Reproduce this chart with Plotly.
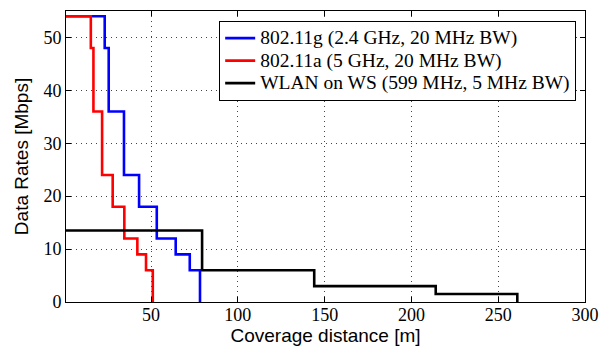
import plotly.graph_objects as go

# Data rates (Mbps) and the coverage distance (m) at which each rate ends
g_rates = [54, 48, 36, 24, 18, 12, 9, 6]
g_dist = [23.3, 25.6, 34.4, 43.1, 53.3, 64.2, 72.3, 78.2]

a_rates = [54, 48, 36, 24, 18, 12, 9, 6]
a_dist = [15.3, 16.8, 21.8, 27.9, 34.6, 42.1, 47.1, 51.0]

ws_rates = [13.5, 6, 3, 1.5]
ws_dist = [79.4, 144.0, 214.0, 261.0]

x_start = 1
series_names = ["802.11g (2.4 GHz, 20 MHz BW)",
                "802.11a (5 GHz, 20 MHz BW)",
                "WLAN on WS (599 MHz, 5 MHz BW)"]
colors = ["#0000ff", "#ff0000", "#000000"]

x_ticks = [50, 100, 150, 200, 250, 300]
y_ticks = [0, 10, 20, 30, 40, 50]

fig = go.Figure()
for name, rates, dist, c in zip(series_names, [g_rates, a_rates, ws_rates],
                                [g_dist, a_dist, ws_dist], colors):
    xs = [x_start] + dist
    ys = rates + [0]
    fig.add_trace(go.Scatter(x=xs, y=ys, mode="lines",
                             name='<span style="font-size:19.5px">' + name + "</span>",
                             line=dict(color=c, width=2.6, shape="hv")))

serif = "Liberation Serif, Times New Roman, serif"
sans = "Liberation Sans, Arial, sans-serif"

axis_common = dict(
    showline=True, linecolor="black", linewidth=1, mirror="ticks",
    ticks="inside", ticklen=5, tickcolor="black",
    showgrid=True, gridcolor="#444444", griddash="1px,4px", gridwidth=1,
    zeroline=False, tickfont=dict(family=serif, size=18, color="black"),
)

fig.update_layout(
    width=611, height=353,
    margin=dict(l=66, r=26, t=10, b=49),
    paper_bgcolor="white", plot_bgcolor="white",
    xaxis=dict(range=[x_start, 300], tickvals=x_ticks, ticklabelstandoff=-4,
               title=dict(text="Coverage distance [m]", standoff=5,
                          font=dict(family=sans, size=19, color="black")),
               **axis_common),
    yaxis=dict(range=[0, 55], tickvals=y_ticks,
               title=dict(text="Data Rates [Mbps]", standoff=9,
                          font=dict(family=sans, size=19, color="black")),
               **axis_common),
    legend=dict(x=0.983, y=0.966, xanchor="right", yanchor="top",
                bgcolor="white", bordercolor="black", borderwidth=1,
                font=dict(family=serif, size=15, color="black"),
                tracegroupgap=0),
    showlegend=True,
)

fig.write_html("out.html", config={"displayModeBar": False},
               post_script="document.body.style.margin='0';document.body.style.padding='0';")
